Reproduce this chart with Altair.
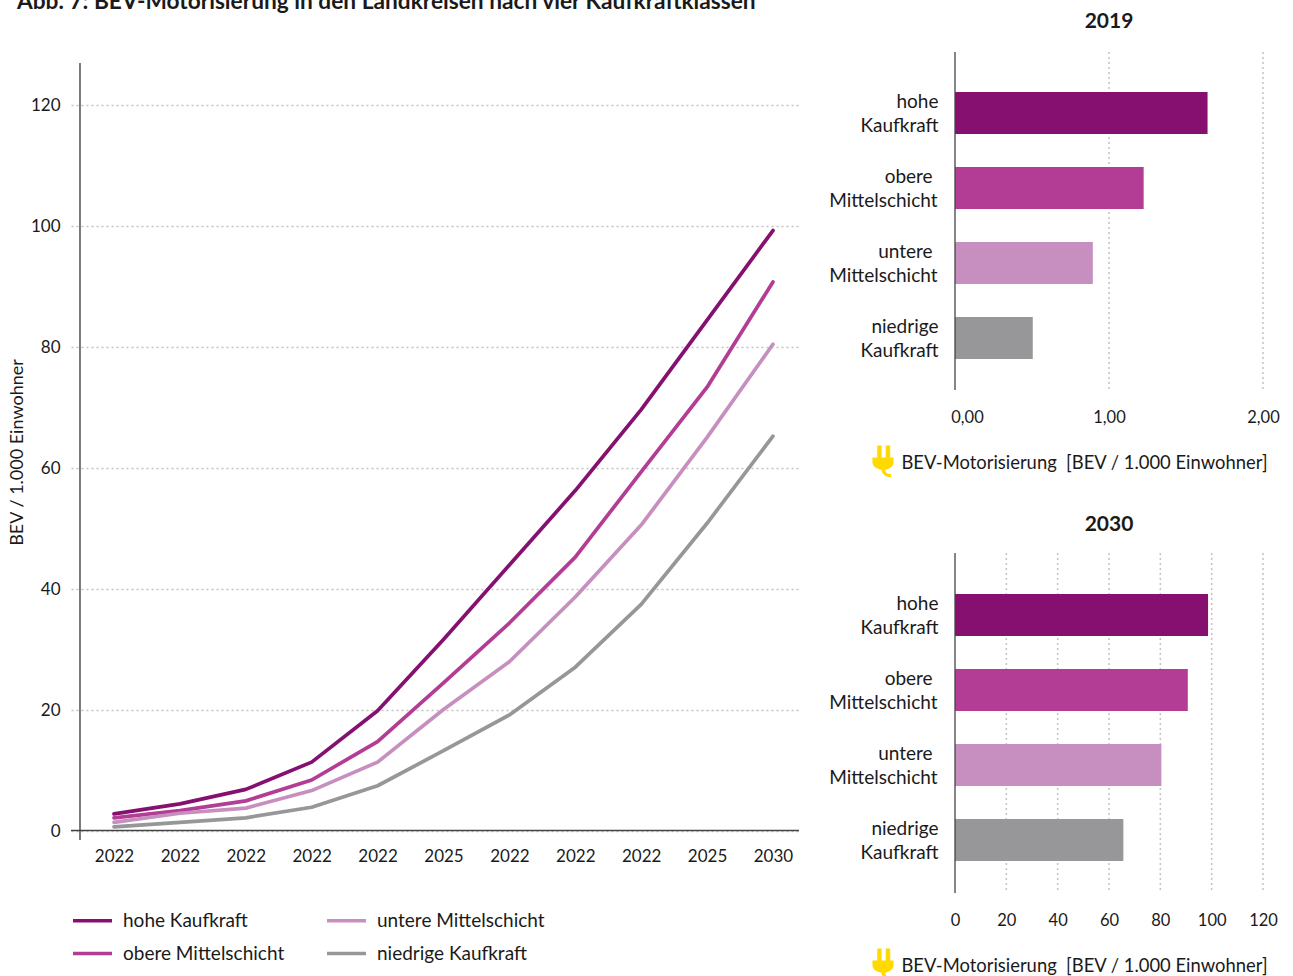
import altair as alt
import pandas as pd

FONT = "Lato"
TEXT = "#1a1a1a"
AXIS = "#444444"
GRID = "#c2c2c2"
DOTS = [2, 3]

classes = ["hohe Kaufkraft", "obere Mittelschicht", "untere Mittelschicht", "niedrige Kaufkraft"]
bar_labels = ["hohe|Kaufkraft", "obere\u00a0\u200b|Mittelschicht", "untere\u00a0\u200b|Mittelschicht", "niedrige|Kaufkraft"]
colors = ["#85106F", "#B33C95", "#C78FBF", "#97979A"]
year_labels = ["2022", "2022", "2022", "2022", "2022", "2025", "2022", "2022", "2022", "2025", "2030"]

hohe = [2.75, 4.4, 6.8, 11.3, 19.8, 31.6, 43.9, 56.2, 69.6, 84.4, 99.2]
obere = [2.1, 3.3, 4.9, 8.35, 14.7, 24.4, 34.3, 45.2, 59.3, 73.3, 90.7]
untere = [1.35, 2.85, 3.7, 6.6, 11.3, 20.0, 27.9, 38.6, 50.5, 65.0, 80.4]
niedrige = [0.6, 1.35, 2.1, 3.85, 7.4, 13.2, 19.1, 27.0, 37.4, 50.8, 65.2]

values_2019 = [1.64, 1.225, 0.895, 0.505]
values_2030 = [98.6, 90.7, 80.4, 65.6]

unit_title = "BEV-Motorisierung\u00a0 [BEV / 1.000 Einwohner]"
plug = ("M-0.36,-0.97 L-0.09,-0.97 L-0.09,-0.22 L0.17,-0.22 L0.17,-0.97 L0.45,-0.97 L0.45,-0.22 "
        "L0.66,-0.22 L0.66,0.05 C0.66,0.35 0.4,0.5 0.14,0.54 C0.14,0.7 0.25,0.82 0.5,0.82 L0.5,1 "
        "C0.15,1 -0.06,0.8 -0.1,0.54 C-0.4,0.5 -0.66,0.35 -0.66,0.05 L-0.66,-0.22 L-0.36,-0.22 Z")

lines_df = pd.DataFrame(
    [
        {"step": i, "value": v, "klasse": name}
        for name, series in zip(classes, [hohe, obere, untere, niedrige])
        for i, v in enumerate(series)
    ]
)
one = pd.DataFrame({"a": [0]})


def spacer(w, h):
    return alt.Chart(one).mark_text(text="", opacity=0).encode(x=alt.value(0)).properties(width=w, height=h)


# Main line chart
x_scale = alt.Scale(domain=[-0.6525, 10.395], nice=False, zero=False)
y_scale = alt.Scale(domain=[-1.57, 126.9], nice=False, zero=False)
label_array = "[" + ",".join(f"'{y}'" for y in year_labels) + "]"

lines = alt.Chart(lines_df).mark_line(strokeWidth=3.7, strokeCap="round", strokeJoin="round").encode(
    x=alt.X(
        "step:Q",
        scale=x_scale,
        axis=alt.Axis(
            values=list(range(11)),
            labelExpr=f"{label_array}[datum.value]",
            title=None,
            grid=False,
            domain=False,
            ticks=False,
            labelPadding=8.5,
            labelFontSize=17,
            labelBaseline="top",
        ),
    ),
    y=alt.Y(
        "value:Q",
        scale=y_scale,
        axis=alt.Axis(
            values=[0, 20, 40, 60, 80, 100, 120],
            title="BEV / 1.000 Einwohner",
            titleFontSize=18,
            titleFontWeight="normal",
            titleX=-44.5,
            titleY=389,
            grid=True,
            gridColor=GRID,
            gridDash=DOTS,
            gridWidth=1.5,
            domain=False,
            ticks=False,
            labelPadding=11,
            labelOffset=0.5,
            labelFontSize=17,
        ),
    ),
    color=alt.Color(
        "klasse:N",
        scale=alt.Scale(domain=classes, range=colors),
        sort=classes,
        legend=alt.Legend(
            orient="none",
            legendX=71,
            legendY=899,
            columns=2,
            direction="vertical",
            title=None,
            symbolType="stroke",
            symbolSize=1521,
            symbolStrokeWidth=3.5,
            labelFontSize=19,
            labelOffset=9,
            labelLimit=260,
            columnPadding=35,
            rowPadding=1,
            labelFont=FONT,
            labelColor=TEXT,
        ),
    ),
    detail="klasse:N",
)
y_line = alt.Chart(one).mark_rule(color="#222222", strokeWidth=1.2).encode(x=alt.datum(-0.516, scale=x_scale))
x_line = alt.Chart(one).mark_rule(color=AXIS, strokeWidth=1.5).encode(y=alt.datum(0, scale=y_scale))
main = alt.layer(y_line, x_line, lines).properties(width=728, height=777)

heading = (
    alt.Chart(one)
    .mark_text(
        text="Abb. 7: BEV-Motorisierung in den Landkreisen nach vier Kaufkraftklassen",
        align="left",
        baseline="alphabetic",
        font=FONT,
        fontWeight="bold",
        fontSize=22.7,
        color=TEXT,
        clip=True,
    )
    .encode(x=alt.value(17), y=alt.value(8.5))
    .properties(width=799, height=20)
)

left_column = alt.vconcat(
    heading,
    alt.hconcat(spacer(71, 777), main, spacing=0, bounds="flush"),
    spacing=43,
    bounds="flush",
)


# Horizontal bar panels
def bar_panel(year, values, x_domain, ticks, label_expr, label_offset, band_range, height, title_offset):
    df = pd.DataFrame({"label": bar_labels, "wert": values, "klasse": classes})
    x_enc_scale = alt.Scale(domain=x_domain, nice=False)
    bars = alt.Chart(df).mark_bar(cornerRadius=0).encode(
        x=alt.X(
            "wert:Q",
            scale=x_enc_scale,
            axis=alt.Axis(
                values=ticks,
                labelExpr=label_expr,
                labelOffset=label_offset,
                labelFlush=False,
                title=unit_title,
                titleFontSize=18.4,
                titleFontWeight="normal",
                titleX=129,
                titleY=63,
                grid=False,
                domain=False,
                ticks=False,
                labelPadding=19.5,
                labelFontSize=16.5,
            ),
        ),
        y=alt.Y(
            "label:N",
            sort=bar_labels,
            scale=alt.Scale(domain=bar_labels, range=band_range, paddingInner=0.44, paddingOuter=0.22),
            axis=alt.Axis(
                title=None,
                domain=False,
                ticks=False,
                labelPadding={"condition": {"test": "indexof(datum.label, 'Mittel') >= 0", "value": 18}, "value": 17},
                labelOffset=-11.5,
                labelFontSize=19,
                labelLineHeight=24,
                labelExpr="split(datum.label, '|')",
                labelLimit=200,
            ),
        ),
        color=alt.Color("klasse:N", scale=alt.Scale(domain=classes, range=colors), legend=None),
    )
    gridlines = (
        alt.Chart(pd.DataFrame({"tick": ticks[1:]}))
        .mark_rule(color=GRID, strokeWidth=1.5, strokeDash=DOTS)
        .encode(x=alt.X("tick:Q", scale=x_enc_scale))
    )
    rule = alt.Chart(one).mark_rule(color=AXIS, strokeWidth=1.3).encode(x=alt.datum(0))
    icon = (
        alt.Chart(one)
        .mark_point(shape=plug, size=1024, filled=True, opacity=1, color="#FFD900", clip=False)
        .encode(x=alt.value(-72), y=alt.value(height + 71))
    )
    return alt.layer(gridlines, bars, rule, icon).properties(
        width=308,
        height=height,
        title=alt.TitleParams(str(year), fontSize=21, fontWeight="bold", font=FONT, color=TEXT, offset=title_offset, anchor="middle"),
    )


panel_2019 = bar_panel(
    2019,
    values_2019,
    [0, 2],
    [0, 1, 2],
    "replace(format(datum.value, '.2f'), '.', ',')",
    {"condition": {"test": "datum.value === 0", "value": 12}, "value": 0},
    [23.5, 323.5],
    338,
    19,
)
panel_2030 = bar_panel(
    2030,
    values_2030,
    [0, 120],
    [0, 20, 40, 60, 80, 100, 120],
    "format(datum.value, 'd')",
    0,
    [24.5, 324.5],
    340,
    17.5,
)

right_column = alt.vconcat(
    spacer(308, 52),
    alt.vconcat(panel_2019, panel_2030, spacing=163, bounds="flush"),
    spacing=0,
    bounds="flush",
)

chart = (
    alt.hconcat(left_column, right_column, spacing=955, bounds="flush")
    .properties(padding=0, background="white")
    .configure_view(stroke=None)
    .configure_axis(labelFont=FONT, titleFont=FONT, labelColor=TEXT, titleColor=TEXT)
)

chart.save("out.html", embed_options={"renderer": "svg", "actions": False})
